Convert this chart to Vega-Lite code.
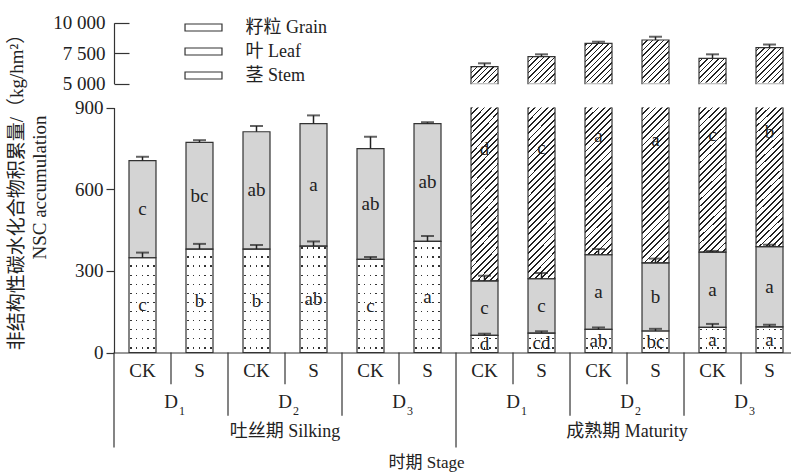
{
"$schema":"https://vega.github.io/schema/vega-lite/v6.json",
"width":677,"height":473,"autosize":"none",
"padding":{"left":114,"top":0,"right":0,"bottom":0},
"background":"white",
"config":{"view":{"stroke":null},"font":"Liberation Serif, Noto Sans CJK SC",
"axis":{"grid":false,"labelFont":"Liberation Serif, Noto Sans CJK SC","titleFont":"Liberation Serif, Noto Sans CJK SC","labelColor":"#222","titleColor":"#222","labelFontSize":19,"titleFontSize":19,"titleFontWeight":"normal","domainColor":"#333","tickColor":"#333","domainWidth":1.2,"tickWidth":1.2},
"text":{"font":"Liberation Serif, Noto Sans CJK SC","color":"#222"},
"legend":{"labelFont":"Liberation Serif, Noto Sans CJK SC","labelFontSize":18,"labelColor":"#222"}},
"datasets":{
"main":[
{"i":1,"stage":"Silking","t":"CK","part":"Stem","v":348,"e":19,"l":"c"},
{"i":1,"stage":"Silking","t":"CK","part":"Leaf","v":357,"e":14,"l":"c"},
{"i":2,"stage":"Silking","t":"S","part":"Stem","v":380,"e":19,"l":"b"},
{"i":2,"stage":"Silking","t":"S","part":"Leaf","v":392,"e":8,"l":"bc"},
{"i":3,"stage":"Silking","t":"CK","part":"Stem","v":380,"e":15,"l":"b"},
{"i":3,"stage":"Silking","t":"CK","part":"Leaf","v":431,"e":21,"l":"ab"},
{"i":4,"stage":"Silking","t":"S","part":"Stem","v":391,"e":17,"l":"ab"},
{"i":4,"stage":"Silking","t":"S","part":"Leaf","v":450,"e":30,"l":"a"},
{"i":5,"stage":"Silking","t":"CK","part":"Stem","v":342,"e":9,"l":"c"},
{"i":5,"stage":"Silking","t":"CK","part":"Leaf","v":407,"e":44,"l":"ab"},
{"i":6,"stage":"Silking","t":"S","part":"Stem","v":408,"e":20,"l":"a"},
{"i":6,"stage":"Silking","t":"S","part":"Leaf","v":433,"e":5,"l":"ab"},
{"i":7,"stage":"Maturity","t":"CK","part":"Stem","v":63,"e":6,"l":"d"},
{"i":7,"stage":"Maturity","t":"CK","part":"Leaf","v":200,"e":19,"l":"c"},
{"i":7,"stage":"Maturity","t":"CK","part":"Grain","v":6126,"e":280,"l":"d"},
{"i":8,"stage":"Maturity","t":"S","part":"Stem","v":71,"e":7,"l":"cd"},
{"i":8,"stage":"Maturity","t":"S","part":"Leaf","v":200,"e":21,"l":"c"},
{"i":8,"stage":"Maturity","t":"S","part":"Grain","v":6940,"e":197,"l":"c"},
{"i":9,"stage":"Maturity","t":"CK","part":"Stem","v":85,"e":7,"l":"ab"},
{"i":9,"stage":"Maturity","t":"CK","part":"Leaf","v":274,"e":21,"l":"a"},
{"i":9,"stage":"Maturity","t":"CK","part":"Grain","v":7954,"e":131,"l":"a"},
{"i":10,"stage":"Maturity","t":"S","part":"Stem","v":79,"e":8,"l":"bc"},
{"i":10,"stage":"Maturity","t":"S","part":"Leaf","v":250,"e":16,"l":"b"},
{"i":10,"stage":"Maturity","t":"S","part":"Grain","v":8255,"e":271,"l":"a"},
{"i":11,"stage":"Maturity","t":"CK","part":"Stem","v":92,"e":13,"l":"a"},
{"i":11,"stage":"Maturity","t":"CK","part":"Leaf","v":277,"e":4,"l":"a"},
{"i":11,"stage":"Maturity","t":"CK","part":"Grain","v":6711,"e":328,"l":"c"},
{"i":12,"stage":"Maturity","t":"S","part":"Stem","v":94,"e":8,"l":"a"},
{"i":12,"stage":"Maturity","t":"S","part":"Leaf","v":295,"e":7,"l":"a"},
{"i":12,"stage":"Maturity","t":"S","part":"Grain","v":7562,"e":263,"l":"b"}
],
"seps":[{"i":0.5,"tier":3},{"i":1.5,"tier":1},{"i":2.5,"tier":2},{"i":3.5,"tier":1},{"i":4.5,"tier":2},{"i":5.5,"tier":1},{"i":6.5,"tier":3},{"i":7.5,"tier":1},{"i":8.5,"tier":2},{"i":9.5,"tier":1},{"i":10.5,"tier":2},{"i":11.5,"tier":1}],
"labs":[{"i":1,"tier":1,"txt":"CK"},{"i":2,"tier":1,"txt":"S"},{"i":3,"tier":1,"txt":"CK"},{"i":4,"tier":1,"txt":"S"},{"i":5,"tier":1,"txt":"CK"},{"i":6,"tier":1,"txt":"S"},{"i":7,"tier":1,"txt":"CK"},{"i":8,"tier":1,"txt":"S"},{"i":9,"tier":1,"txt":"CK"},{"i":10,"tier":1,"txt":"S"},{"i":11,"tier":1,"txt":"CK"},{"i":12,"tier":1,"txt":"S"},
{"i":1.5,"tier":2,"txt":"D","sub":"1"},{"i":3.5,"tier":2,"txt":"D","sub":"2"},{"i":5.5,"tier":2,"txt":"D","sub":"3"},{"i":7.5,"tier":2,"txt":"D","sub":"1"},{"i":9.5,"tier":2,"txt":"D","sub":"2"},{"i":11.5,"tier":2,"txt":"D","sub":"3"},{"i":3.5,"tier":3,"txt":"吐丝期 Silking"},{"i":9.5,"tier":3,"txt":"成熟期 Maturity"}]
},
"encoding":{"x":{"field":"i","type":"quantitative","stack":null,"scale":{"domain":[0.5,12.377],"nice":false,"zero":false,"padding":0},
"axis":{"orient":"bottom","offset":-120.5,"domain":true,"ticks":false,"labels":false,"title":"时期  Stage","titleX":312,"titleY":110,"titleBaseline":"middle","titleFontSize":17}}},
"resolve":{"scale":{"y":"independent"},"axis":{"y":"independent"}},
"layer":[
{
"data":{"name":"main"},
"transform":[
{"stack":"v","groupby":["i"],"sort":[{"field":"part","order":"descending"}],"as":["v0","v1"]},
{"calculate":"datum.v1+datum.e","as":"eTop"},
{"calculate":"(datum.v0+datum.v1)/2","as":"mid"},
{"calculate":"(datum.v0+900)/2","as":"gmid"},
{"calculate":"900","as":"top"},
{"calculate":"930","as":"top2"},
{"calculate":"0","as":"base"}
],
"layer":[
{"transform":[{"filter":"datum.part==='Stem'"}],
"mark":{"type":"bar","width":27,"strokeWidth":0,"fill":{"gradient":"linear","x1":0,"y1":0,"x2":0,"y2":1,"stops":[
{"offset":0,"color":"#fff"},
{"offset":0.015,"color":"#fff"},{"offset":0.015,"color":"#333"},{"offset":0.021,"color":"#333"},{"offset":0.021,"color":"#fff"},
{"offset":0.052,"color":"#fff"},{"offset":0.052,"color":"#333"},{"offset":0.058,"color":"#333"},{"offset":0.058,"color":"#fff"},
{"offset":0.0891,"color":"#fff"},{"offset":0.0891,"color":"#333"},{"offset":0.0951,"color":"#333"},{"offset":0.0951,"color":"#fff"},
{"offset":0.1261,"color":"#fff"},{"offset":0.1261,"color":"#333"},{"offset":0.1321,"color":"#333"},{"offset":0.1321,"color":"#fff"},
{"offset":0.1631,"color":"#fff"},{"offset":0.1631,"color":"#333"},{"offset":0.1691,"color":"#333"},{"offset":0.1691,"color":"#fff"},
{"offset":0.2002,"color":"#fff"},{"offset":0.2002,"color":"#333"},{"offset":0.2062,"color":"#333"},{"offset":0.2062,"color":"#fff"},
{"offset":0.2372,"color":"#fff"},{"offset":0.2372,"color":"#333"},{"offset":0.2432,"color":"#333"},{"offset":0.2432,"color":"#fff"},
{"offset":0.2743,"color":"#fff"},{"offset":0.2743,"color":"#333"},{"offset":0.2803,"color":"#333"},{"offset":0.2803,"color":"#fff"},
{"offset":0.3113,"color":"#fff"},{"offset":0.3113,"color":"#333"},{"offset":0.3173,"color":"#333"},{"offset":0.3173,"color":"#fff"},
{"offset":0.3483,"color":"#fff"},{"offset":0.3483,"color":"#333"},{"offset":0.3543,"color":"#333"},{"offset":0.3543,"color":"#fff"},
{"offset":0.3854,"color":"#fff"},{"offset":0.3854,"color":"#333"},{"offset":0.3914,"color":"#333"},{"offset":0.3914,"color":"#fff"},
{"offset":0.4224,"color":"#fff"},{"offset":0.4224,"color":"#333"},{"offset":0.4284,"color":"#333"},{"offset":0.4284,"color":"#fff"},
{"offset":0.4594,"color":"#fff"},{"offset":0.4594,"color":"#333"},{"offset":0.4654,"color":"#333"},{"offset":0.4654,"color":"#fff"},
{"offset":0.4965,"color":"#fff"},{"offset":0.4965,"color":"#333"},{"offset":0.5025,"color":"#333"},{"offset":0.5025,"color":"#fff"},
{"offset":0.5335,"color":"#fff"},{"offset":0.5335,"color":"#333"},{"offset":0.5395,"color":"#333"},{"offset":0.5395,"color":"#fff"},
{"offset":0.5706,"color":"#fff"},{"offset":0.5706,"color":"#333"},{"offset":0.5766,"color":"#333"},{"offset":0.5766,"color":"#fff"},
{"offset":0.6076,"color":"#fff"},{"offset":0.6076,"color":"#333"},{"offset":0.6136,"color":"#333"},{"offset":0.6136,"color":"#fff"},
{"offset":0.6446,"color":"#fff"},{"offset":0.6446,"color":"#333"},{"offset":0.6506,"color":"#333"},{"offset":0.6506,"color":"#fff"},
{"offset":0.6817,"color":"#fff"},{"offset":0.6817,"color":"#333"},{"offset":0.6877,"color":"#333"},{"offset":0.6877,"color":"#fff"},
{"offset":0.7187,"color":"#fff"},{"offset":0.7187,"color":"#333"},{"offset":0.7247,"color":"#333"},{"offset":0.7247,"color":"#fff"},
{"offset":0.7557,"color":"#fff"},{"offset":0.7557,"color":"#333"},{"offset":0.7617,"color":"#333"},{"offset":0.7617,"color":"#fff"},
{"offset":0.7928,"color":"#fff"},{"offset":0.7928,"color":"#333"},{"offset":0.7988,"color":"#333"},{"offset":0.7988,"color":"#fff"},
{"offset":0.8298,"color":"#fff"},{"offset":0.8298,"color":"#333"},{"offset":0.8358,"color":"#333"},{"offset":0.8358,"color":"#fff"},
{"offset":0.8669,"color":"#fff"},{"offset":0.8669,"color":"#333"},{"offset":0.8729,"color":"#333"},{"offset":0.8729,"color":"#fff"},
{"offset":0.9039,"color":"#fff"},{"offset":0.9039,"color":"#333"},{"offset":0.9099,"color":"#333"},{"offset":0.9099,"color":"#fff"},
{"offset":0.9409,"color":"#fff"},{"offset":0.9409,"color":"#333"},{"offset":0.9469,"color":"#333"},{"offset":0.9469,"color":"#fff"},
{"offset":0.978,"color":"#fff"},{"offset":0.978,"color":"#333"},{"offset":0.984,"color":"#333"},{"offset":0.984,"color":"#fff"},
{"offset":1,"color":"#fff"}]}},
"encoding":{"y":{"field":"base","type":"quantitative","scale":{"domain":[0,900],"range":[352.5,107.5],"nice":false,"zero":false},
"axis":{"orient":"left","values":[0,300,600,900],"tickSize":8,"labelPadding":3,"title":["非结构性碳水化合物积累量/（kg/hm²）","NSC accumulation"],"titleX":-88,"titleY":187,"titleAngle":270,"titleBaseline":"bottom","titleAlign":"center","titleLineHeight":23,"titleFontSize":19}},
"y2":{"field":"top"}}},
{"transform":[{"filter":"datum.part==='Stem'"}],
"mark":{"type":"bar","width":27,"strokeWidth":0,"fill":{"gradient":"linear","x1":0,"y1":0,"x2":1,"y2":0,"stops":[
{"offset":0,"color":"#fff"},{"offset":0.046,"color":"#fff"},{"offset":0.046,"color":"rgba(255,255,255,0)"},{"offset":0.102,"color":"rgba(255,255,255,0)"},{"offset":0.102,"color":"#fff"},
{"offset":0.257,"color":"#fff"},{"offset":0.257,"color":"rgba(255,255,255,0)"},{"offset":0.313,"color":"rgba(255,255,255,0)"},{"offset":0.313,"color":"#fff"},
{"offset":0.468,"color":"#fff"},{"offset":0.468,"color":"rgba(255,255,255,0)"},{"offset":0.524,"color":"rgba(255,255,255,0)"},{"offset":0.524,"color":"#fff"},
{"offset":0.679,"color":"#fff"},{"offset":0.679,"color":"rgba(255,255,255,0)"},{"offset":0.735,"color":"rgba(255,255,255,0)"},{"offset":0.735,"color":"#fff"},
{"offset":0.891,"color":"#fff"},{"offset":0.891,"color":"rgba(255,255,255,0)"},{"offset":0.947,"color":"rgba(255,255,255,0)"},{"offset":0.947,"color":"#fff"},
{"offset":1,"color":"#fff"}]}},
"encoding":{"y":{"field":"base","type":"quantitative","scale":{"domain":[0,900],"range":[352.5,107.5],"nice":false,"zero":false},
"axis":{"orient":"left","values":[0,300,600,900],"tickSize":8,"labelPadding":3,"title":["非结构性碳水化合物积累量/（kg/hm²）","NSC accumulation"],"titleX":-88,"titleY":187,"titleAngle":270,"titleBaseline":"bottom","titleAlign":"center","titleLineHeight":23,"titleFontSize":19}},
"y2":{"field":"top"}}},
{"transform":[{"filter":"datum.part==='Leaf' && datum.stage==='Maturity'"}],
"mark":{"type":"bar","width":27,"strokeWidth":0,"fill":{"gradient":"linear","x1":0,"y1":0,"x2":0.1334,"y2":1.1046,"stops":[
{"offset":0,"color":"#222"},{"offset":0.0075,"color":"#222"},{"offset":0.0075,"color":"#fff"},{"offset":0.025,"color":"#fff"},
{"offset":0.025,"color":"#222"},{"offset":0.0325,"color":"#222"},{"offset":0.0325,"color":"#fff"},{"offset":0.05,"color":"#fff"},
{"offset":0.05,"color":"#222"},{"offset":0.0575,"color":"#222"},{"offset":0.0575,"color":"#fff"},{"offset":0.075,"color":"#fff"},
{"offset":0.075,"color":"#222"},{"offset":0.0825,"color":"#222"},{"offset":0.0825,"color":"#fff"},{"offset":0.1,"color":"#fff"},
{"offset":0.1,"color":"#222"},{"offset":0.1075,"color":"#222"},{"offset":0.1075,"color":"#fff"},{"offset":0.125,"color":"#fff"},
{"offset":0.125,"color":"#222"},{"offset":0.1325,"color":"#222"},{"offset":0.1325,"color":"#fff"},{"offset":0.15,"color":"#fff"},
{"offset":0.15,"color":"#222"},{"offset":0.1575,"color":"#222"},{"offset":0.1575,"color":"#fff"},{"offset":0.175,"color":"#fff"},
{"offset":0.175,"color":"#222"},{"offset":0.1825,"color":"#222"},{"offset":0.1825,"color":"#fff"},{"offset":0.2,"color":"#fff"},
{"offset":0.2,"color":"#222"},{"offset":0.2075,"color":"#222"},{"offset":0.2075,"color":"#fff"},{"offset":0.225,"color":"#fff"},
{"offset":0.225,"color":"#222"},{"offset":0.2325,"color":"#222"},{"offset":0.2325,"color":"#fff"},{"offset":0.25,"color":"#fff"},
{"offset":0.25,"color":"#222"},{"offset":0.2575,"color":"#222"},{"offset":0.2575,"color":"#fff"},{"offset":0.275,"color":"#fff"},
{"offset":0.275,"color":"#222"},{"offset":0.2825,"color":"#222"},{"offset":0.2825,"color":"#fff"},{"offset":0.3,"color":"#fff"},
{"offset":0.3,"color":"#222"},{"offset":0.3075,"color":"#222"},{"offset":0.3075,"color":"#fff"},{"offset":0.325,"color":"#fff"},
{"offset":0.325,"color":"#222"},{"offset":0.3325,"color":"#222"},{"offset":0.3325,"color":"#fff"},{"offset":0.35,"color":"#fff"},
{"offset":0.35,"color":"#222"},{"offset":0.3575,"color":"#222"},{"offset":0.3575,"color":"#fff"},{"offset":0.375,"color":"#fff"},
{"offset":0.375,"color":"#222"},{"offset":0.3825,"color":"#222"},{"offset":0.3825,"color":"#fff"},{"offset":0.4,"color":"#fff"},
{"offset":0.4,"color":"#222"},{"offset":0.4075,"color":"#222"},{"offset":0.4075,"color":"#fff"},{"offset":0.425,"color":"#fff"},
{"offset":0.425,"color":"#222"},{"offset":0.4325,"color":"#222"},{"offset":0.4325,"color":"#fff"},{"offset":0.45,"color":"#fff"},
{"offset":0.45,"color":"#222"},{"offset":0.4575,"color":"#222"},{"offset":0.4575,"color":"#fff"},{"offset":0.475,"color":"#fff"},
{"offset":0.475,"color":"#222"},{"offset":0.4825,"color":"#222"},{"offset":0.4825,"color":"#fff"},{"offset":0.5,"color":"#fff"},
{"offset":0.5,"color":"#222"},{"offset":0.5075,"color":"#222"},{"offset":0.5075,"color":"#fff"},{"offset":0.525,"color":"#fff"},
{"offset":0.525,"color":"#222"},{"offset":0.5325,"color":"#222"},{"offset":0.5325,"color":"#fff"},{"offset":0.55,"color":"#fff"},
{"offset":0.55,"color":"#222"},{"offset":0.5575,"color":"#222"},{"offset":0.5575,"color":"#fff"},{"offset":0.575,"color":"#fff"},
{"offset":0.575,"color":"#222"},{"offset":0.5825,"color":"#222"},{"offset":0.5825,"color":"#fff"},{"offset":0.6,"color":"#fff"},
{"offset":0.6,"color":"#222"},{"offset":0.6075,"color":"#222"},{"offset":0.6075,"color":"#fff"},{"offset":0.625,"color":"#fff"},
{"offset":0.625,"color":"#222"},{"offset":0.6325,"color":"#222"},{"offset":0.6325,"color":"#fff"},{"offset":0.65,"color":"#fff"},
{"offset":0.65,"color":"#222"},{"offset":0.6575,"color":"#222"},{"offset":0.6575,"color":"#fff"},{"offset":0.675,"color":"#fff"},
{"offset":0.675,"color":"#222"},{"offset":0.6825,"color":"#222"},{"offset":0.6825,"color":"#fff"},{"offset":0.7,"color":"#fff"},
{"offset":0.7,"color":"#222"},{"offset":0.7075,"color":"#222"},{"offset":0.7075,"color":"#fff"},{"offset":0.725,"color":"#fff"},
{"offset":0.725,"color":"#222"},{"offset":0.7325,"color":"#222"},{"offset":0.7325,"color":"#fff"},{"offset":0.75,"color":"#fff"},
{"offset":0.75,"color":"#222"},{"offset":0.7575,"color":"#222"},{"offset":0.7575,"color":"#fff"},{"offset":0.775,"color":"#fff"},
{"offset":0.775,"color":"#222"},{"offset":0.7825,"color":"#222"},{"offset":0.7825,"color":"#fff"},{"offset":0.8,"color":"#fff"},
{"offset":0.8,"color":"#222"},{"offset":0.8075,"color":"#222"},{"offset":0.8075,"color":"#fff"},{"offset":0.825,"color":"#fff"},
{"offset":0.825,"color":"#222"},{"offset":0.8325,"color":"#222"},{"offset":0.8325,"color":"#fff"},{"offset":0.85,"color":"#fff"},
{"offset":0.85,"color":"#222"},{"offset":0.8575,"color":"#222"},{"offset":0.8575,"color":"#fff"},{"offset":0.875,"color":"#fff"},
{"offset":0.875,"color":"#222"},{"offset":0.8825,"color":"#222"},{"offset":0.8825,"color":"#fff"},{"offset":0.9,"color":"#fff"},
{"offset":0.9,"color":"#222"},{"offset":0.9075,"color":"#222"},{"offset":0.9075,"color":"#fff"},{"offset":0.925,"color":"#fff"},
{"offset":0.925,"color":"#222"},{"offset":0.9325,"color":"#222"},{"offset":0.9325,"color":"#fff"},{"offset":0.95,"color":"#fff"},
{"offset":0.95,"color":"#222"},{"offset":0.9575,"color":"#222"},{"offset":0.9575,"color":"#fff"},{"offset":0.975,"color":"#fff"},
{"offset":0.975,"color":"#222"},{"offset":0.9825,"color":"#222"},{"offset":0.9825,"color":"#fff"},{"offset":1,"color":"#fff"}]}},
"encoding":{"y":{"field":"v0","type":"quantitative","scale":{"domain":[0,900],"range":[352.5,107.5],"nice":false,"zero":false},
"axis":{"orient":"left","values":[0,300,600,900],"tickSize":8,"labelPadding":3,"title":["非结构性碳水化合物积累量/（kg/hm²）","NSC accumulation"],"titleX":-88,"titleY":187,"titleAngle":270,"titleBaseline":"bottom","titleAlign":"center","titleLineHeight":23,"titleFontSize":19}},
"y2":{"field":"top"}}},
{"transform":[{"filter":"datum.part==='Leaf' && datum.stage==='Silking'"}],
"mark":{"type":"bar","width":30,"strokeWidth":0,"fill":"white"},
"encoding":{"y":{"field":"v1","type":"quantitative","scale":{"domain":[0,900],"range":[352.5,107.5],"nice":false,"zero":false},
"axis":{"orient":"left","values":[0,300,600,900],"tickSize":8,"labelPadding":3,"title":["非结构性碳水化合物积累量/（kg/hm²）","NSC accumulation"],"titleX":-88,"titleY":187,"titleAngle":270,"titleBaseline":"bottom","titleAlign":"center","titleLineHeight":23,"titleFontSize":19}},
"y2":{"field":"top2"}}},
{"transform":[{"filter":"datum.part==='Leaf'"}],
"mark":{"type":"bar","width":27,"fill":"#d4d4d4","stroke":"#333","strokeWidth":1.2},
"encoding":{"y":{"field":"v0","type":"quantitative","scale":{"domain":[0,900],"range":[352.5,107.5],"nice":false,"zero":false},
"axis":{"orient":"left","values":[0,300,600,900],"tickSize":8,"labelPadding":3,"title":["非结构性碳水化合物积累量/（kg/hm²）","NSC accumulation"],"titleX":-88,"titleY":187,"titleAngle":270,"titleBaseline":"bottom","titleAlign":"center","titleLineHeight":23,"titleFontSize":19}},
"y2":{"field":"v1"}}},
{"transform":[{"filter":"datum.part==='Stem'"}],
"mark":{"type":"bar","width":27,"fill":"transparent","stroke":"#333","strokeWidth":1.2},
"encoding":{"y":{"field":"v0","type":"quantitative","scale":{"domain":[0,900],"range":[352.5,107.5],"nice":false,"zero":false},
"axis":{"orient":"left","values":[0,300,600,900],"tickSize":8,"labelPadding":3,"title":["非结构性碳水化合物积累量/（kg/hm²）","NSC accumulation"],"titleX":-88,"titleY":187,"titleAngle":270,"titleBaseline":"bottom","titleAlign":"center","titleLineHeight":23,"titleFontSize":19}},
"y2":{"field":"v1"}}},
{"transform":[{"filter":"datum.part==='Grain'"}],
"mark":{"type":"bar","width":27,"fill":"transparent","stroke":"#333","strokeWidth":1.2,"strokeDash":[0,27,2000]},
"encoding":{"y":{"field":"v0","type":"quantitative","scale":{"domain":[0,900],"range":[352.5,107.5],"nice":false,"zero":false},
"axis":{"orient":"left","values":[0,300,600,900],"tickSize":8,"labelPadding":3,"title":["非结构性碳水化合物积累量/（kg/hm²）","NSC accumulation"],"titleX":-88,"titleY":187,"titleAngle":270,"titleBaseline":"bottom","titleAlign":"center","titleLineHeight":23,"titleFontSize":19}},
"y2":{"field":"top"}}},
{"transform":[{"filter":"datum.part!=='Grain'"}],
"mark":{"type":"rule","stroke":"#222","strokeWidth":1.5},
"encoding":{"y":{"field":"v1","type":"quantitative","scale":{"domain":[0,900],"range":[352.5,107.5],"nice":false,"zero":false},
"axis":{"orient":"left","values":[0,300,600,900],"tickSize":8,"labelPadding":3,"title":["非结构性碳水化合物积累量/（kg/hm²）","NSC accumulation"],"titleX":-88,"titleY":187,"titleAngle":270,"titleBaseline":"bottom","titleAlign":"center","titleLineHeight":23,"titleFontSize":19}},
"y2":{"field":"eTop"}}},
{"transform":[{"filter":"datum.part!=='Grain'"}],
"mark":{"type":"tick","orient":"horizontal","size":13,"thickness":2,"color":"#222"},
"encoding":{"y":{"field":"eTop","type":"quantitative","scale":{"domain":[0,900],"range":[352.5,107.5],"nice":false,"zero":false},
"axis":{"orient":"left","values":[0,300,600,900],"tickSize":8,"labelPadding":3,"title":["非结构性碳水化合物积累量/（kg/hm²）","NSC accumulation"],"titleX":-88,"titleY":187,"titleAngle":270,"titleBaseline":"bottom","titleAlign":"center","titleLineHeight":23,"titleFontSize":19}}}},
{"transform":[{"filter":"datum.part!=='Grain'"}],
"mark":{"type":"text","fontSize":19,"color":"#222"},
"encoding":{"y":{"field":"mid","type":"quantitative","scale":{"domain":[0,900],"range":[352.5,107.5],"nice":false,"zero":false},
"axis":{"orient":"left","values":[0,300,600,900],"tickSize":8,"labelPadding":3,"title":["非结构性碳水化合物积累量/（kg/hm²）","NSC accumulation"],"titleX":-88,"titleY":187,"titleAngle":270,"titleBaseline":"bottom","titleAlign":"center","titleLineHeight":23,"titleFontSize":19}},
"text":{"field":"l","type":"nominal"}}},
{"transform":[{"filter":"datum.part==='Grain'"}],
"mark":{"type":"text","fontSize":19,"color":"#222","dy":-45},
"encoding":{"y":{"field":"gmid","type":"quantitative","scale":{"domain":[0,900],"range":[352.5,107.5],"nice":false,"zero":false},
"axis":{"orient":"left","values":[0,300,600,900],"tickSize":8,"labelPadding":3,"title":["非结构性碳水化合物积累量/（kg/hm²）","NSC accumulation"],"titleX":-88,"titleY":187,"titleAngle":270,"titleBaseline":"bottom","titleAlign":"center","titleLineHeight":23,"titleFontSize":19}},
"text":{"field":"l","type":"nominal"}}}
]
},
{
"data":{"name":"main"},
"transform":[
{"stack":"v","groupby":["i"],"sort":[{"field":"part","order":"descending"}],"as":["v0","v1"]},
{"filter":"datum.part==='Grain'"},
{"calculate":"datum.v1+datum.e","as":"eTop"},
{"calculate":"5000","as":"lo"},
{"calculate":"10000","as":"hi"},
{"calculate":"10500","as":"hi2"}
],
"layer":[
{"mark":{"type":"bar","width":27,"strokeWidth":0,"fill":{"gradient":"linear","x1":0,"y1":0,"x2":0.5356,"y2":1.2062,"stops":[
{"offset":0,"color":"#222"},{"offset":0.01875,"color":"#222"},{"offset":0.01875,"color":"#fff"},{"offset":0.0625,"color":"#fff"},
{"offset":0.0625,"color":"#222"},{"offset":0.08125,"color":"#222"},{"offset":0.08125,"color":"#fff"},{"offset":0.125,"color":"#fff"},
{"offset":0.125,"color":"#222"},{"offset":0.14375,"color":"#222"},{"offset":0.14375,"color":"#fff"},{"offset":0.1875,"color":"#fff"},
{"offset":0.1875,"color":"#222"},{"offset":0.20625,"color":"#222"},{"offset":0.20625,"color":"#fff"},{"offset":0.25,"color":"#fff"},
{"offset":0.25,"color":"#222"},{"offset":0.26875,"color":"#222"},{"offset":0.26875,"color":"#fff"},{"offset":0.3125,"color":"#fff"},
{"offset":0.3125,"color":"#222"},{"offset":0.33125,"color":"#222"},{"offset":0.33125,"color":"#fff"},{"offset":0.375,"color":"#fff"},
{"offset":0.375,"color":"#222"},{"offset":0.39375,"color":"#222"},{"offset":0.39375,"color":"#fff"},{"offset":0.4375,"color":"#fff"},
{"offset":0.4375,"color":"#222"},{"offset":0.45625,"color":"#222"},{"offset":0.45625,"color":"#fff"},{"offset":0.5,"color":"#fff"},
{"offset":0.5,"color":"#222"},{"offset":0.51875,"color":"#222"},{"offset":0.51875,"color":"#fff"},{"offset":0.5625,"color":"#fff"},
{"offset":0.5625,"color":"#222"},{"offset":0.58125,"color":"#222"},{"offset":0.58125,"color":"#fff"},{"offset":0.625,"color":"#fff"},
{"offset":0.625,"color":"#222"},{"offset":0.64375,"color":"#222"},{"offset":0.64375,"color":"#fff"},{"offset":0.6875,"color":"#fff"},
{"offset":0.6875,"color":"#222"},{"offset":0.70625,"color":"#222"},{"offset":0.70625,"color":"#fff"},{"offset":0.75,"color":"#fff"},
{"offset":0.75,"color":"#222"},{"offset":0.76875,"color":"#222"},{"offset":0.76875,"color":"#fff"},{"offset":0.8125,"color":"#fff"},
{"offset":0.8125,"color":"#222"},{"offset":0.83125,"color":"#222"},{"offset":0.83125,"color":"#fff"},{"offset":0.875,"color":"#fff"},
{"offset":0.875,"color":"#222"},{"offset":0.89375,"color":"#222"},{"offset":0.89375,"color":"#fff"},{"offset":0.9375,"color":"#fff"},
{"offset":0.9375,"color":"#222"},{"offset":0.95625,"color":"#222"},{"offset":0.95625,"color":"#fff"},{"offset":1,"color":"#fff"}]}},
"encoding":{"y":{"field":"lo","type":"quantitative","scale":{"domain":[5000,10000],"range":[83.6,22.8],"nice":false,"zero":false},
"axis":{"orient":"left","values":[5000,7500,10000],"tickSize":-15,"labelPadding":24,"labelExpr":"replace(format(datum.value, ','), ',', ' ')","title":null}},
"y2":{"field":"hi"}}},
{"mark":{"type":"bar","width":30,"strokeWidth":0,"fill":"white"},
"encoding":{"y":{"field":"v1","type":"quantitative","scale":{"domain":[5000,10000],"range":[83.6,22.8],"nice":false,"zero":false},
"axis":{"orient":"left","values":[5000,7500,10000],"tickSize":-15,"labelPadding":24,"labelExpr":"replace(format(datum.value, ','), ',', ' ')","title":null}},
"y2":{"field":"hi2"}}},
{"mark":{"type":"bar","width":27,"fill":"transparent","strokeWidth":1.2},
"encoding":{"y":{"field":"lo","type":"quantitative","scale":{"domain":[5000,10000],"range":[83.6,22.8],"nice":false,"zero":false},
"axis":{"orient":"left","values":[5000,7500,10000],"tickSize":-15,"labelPadding":24,"labelExpr":"replace(format(datum.value, ','), ',', ' ')","title":null}},
"y2":{"field":"v1"},
"stroke":{"field":"part","type":"nominal","scale":{"domain":["Grain","Leaf","Stem"],"range":["#333","#333","#333"]},
"legend":{"orient":"none","legendX":80.5,"legendY":18.5,"title":null,"padding":0,"symbolType":"M-2.64,-0.5H2.64V0.5H-2.64Z","symbolSize":196,"symbolStrokeWidth":1.2,"symbolStrokeColor":"#333","labelOffset":33,"rowPadding":6,"labelFontSize":18,
"labelExpr":"datum.label==='Grain' ? '籽粒 Grain' : datum.label==='Leaf' ? '叶 Leaf' : '茎 Stem'",
"encode":{"symbols":{"fill":{"condition":[
{"test":"datum.value==='Grain'","value":{"gradient":"linear","x1":0,"y1":0,"x2":1.148,"y2":0.2172,"stops":[
{"offset":0,"color":"#222"},{"offset":0.0375,"color":"#222"},{"offset":0.0375,"color":"#fff"},{"offset":0.125,"color":"#fff"},
{"offset":0.125,"color":"#222"},{"offset":0.1625,"color":"#222"},{"offset":0.1625,"color":"#fff"},{"offset":0.25,"color":"#fff"},
{"offset":0.25,"color":"#222"},{"offset":0.2875,"color":"#222"},{"offset":0.2875,"color":"#fff"},{"offset":0.375,"color":"#fff"},
{"offset":0.375,"color":"#222"},{"offset":0.4125,"color":"#222"},{"offset":0.4125,"color":"#fff"},{"offset":0.5,"color":"#fff"},
{"offset":0.5,"color":"#222"},{"offset":0.5375,"color":"#222"},{"offset":0.5375,"color":"#fff"},{"offset":0.625,"color":"#fff"},
{"offset":0.625,"color":"#222"},{"offset":0.6625,"color":"#222"},{"offset":0.6625,"color":"#fff"},{"offset":0.75,"color":"#fff"},
{"offset":0.75,"color":"#222"},{"offset":0.7875,"color":"#222"},{"offset":0.7875,"color":"#fff"},{"offset":0.875,"color":"#fff"},
{"offset":0.875,"color":"#222"},{"offset":0.9125,"color":"#222"},{"offset":0.9125,"color":"#fff"},{"offset":1,"color":"#fff"}]}},
{"test":"datum.value==='Leaf'","value":"#d4d4d4"}],"value":"white"}}}}}}},
{"mark":{"type":"tick","orient":"horizontal","size":26,"thickness":2.5,"color":"white"},
"encoding":{"y":{"field":"lo","type":"quantitative","scale":{"domain":[5000,10000],"range":[83.6,22.8],"nice":false,"zero":false},
"axis":{"orient":"left","values":[5000,7500,10000],"tickSize":-15,"labelPadding":24,"labelExpr":"replace(format(datum.value, ','), ',', ' ')","title":null}}}},
{"mark":{"type":"rule","stroke":"#222","strokeWidth":1.5},
"encoding":{"y":{"field":"v1","type":"quantitative","scale":{"domain":[5000,10000],"range":[83.6,22.8],"nice":false,"zero":false},
"axis":{"orient":"left","values":[5000,7500,10000],"tickSize":-15,"labelPadding":24,"labelExpr":"replace(format(datum.value, ','), ',', ' ')","title":null}},
"y2":{"field":"eTop"}}},
{"mark":{"type":"tick","orient":"horizontal","size":13,"thickness":2,"color":"#222"},
"encoding":{"y":{"field":"eTop","type":"quantitative","scale":{"domain":[5000,10000],"range":[83.6,22.8],"nice":false,"zero":false},
"axis":{"orient":"left","values":[5000,7500,10000],"tickSize":-15,"labelPadding":24,"labelExpr":"replace(format(datum.value, ','), ',', ' ')","title":null}}}}
]
},
{
"data":{"name":"seps"},
"transform":[{"calculate":"0","as":"base"}],
"mark":{"type":"rule","stroke":"#333","strokeWidth":1.2},
"encoding":{"y":{"field":"base","type":"quantitative","scale":{"domain":[0,3],"range":[352.5,447.5],"nice":false,"zero":false},"axis":null},"y2":{"field":"tier"}}
},
{
"data":{"name":"labs"},
"layer":[
{"transform":[{"filter":"datum.tier!==3"}],
"mark":{"type":"text","fontSize":19,"color":"#222"},
"encoding":{"y":{"field":"tier","type":"quantitative","scale":{"domain":[1,3],"range":[371,432],"nice":false,"zero":false},"axis":null},"text":{"field":"txt","type":"nominal"}}},
{"transform":[{"filter":"datum.tier===2"}],
"mark":{"type":"text","fontSize":12,"color":"#222","dx":11,"dy":9},
"encoding":{"y":{"field":"tier","type":"quantitative","scale":{"domain":[1,3],"range":[371,432],"nice":false,"zero":false},"axis":null},"text":{"field":"sub","type":"nominal"}}},
{"transform":[{"filter":"datum.tier===3"}],
"mark":{"type":"text","fontSize":18,"color":"#222"},
"encoding":{"y":{"field":"tier","type":"quantitative","scale":{"domain":[1,3],"range":[371,432],"nice":false,"zero":false},"axis":null},"text":{"field":"txt","type":"nominal"}}}
]
}
]
}
